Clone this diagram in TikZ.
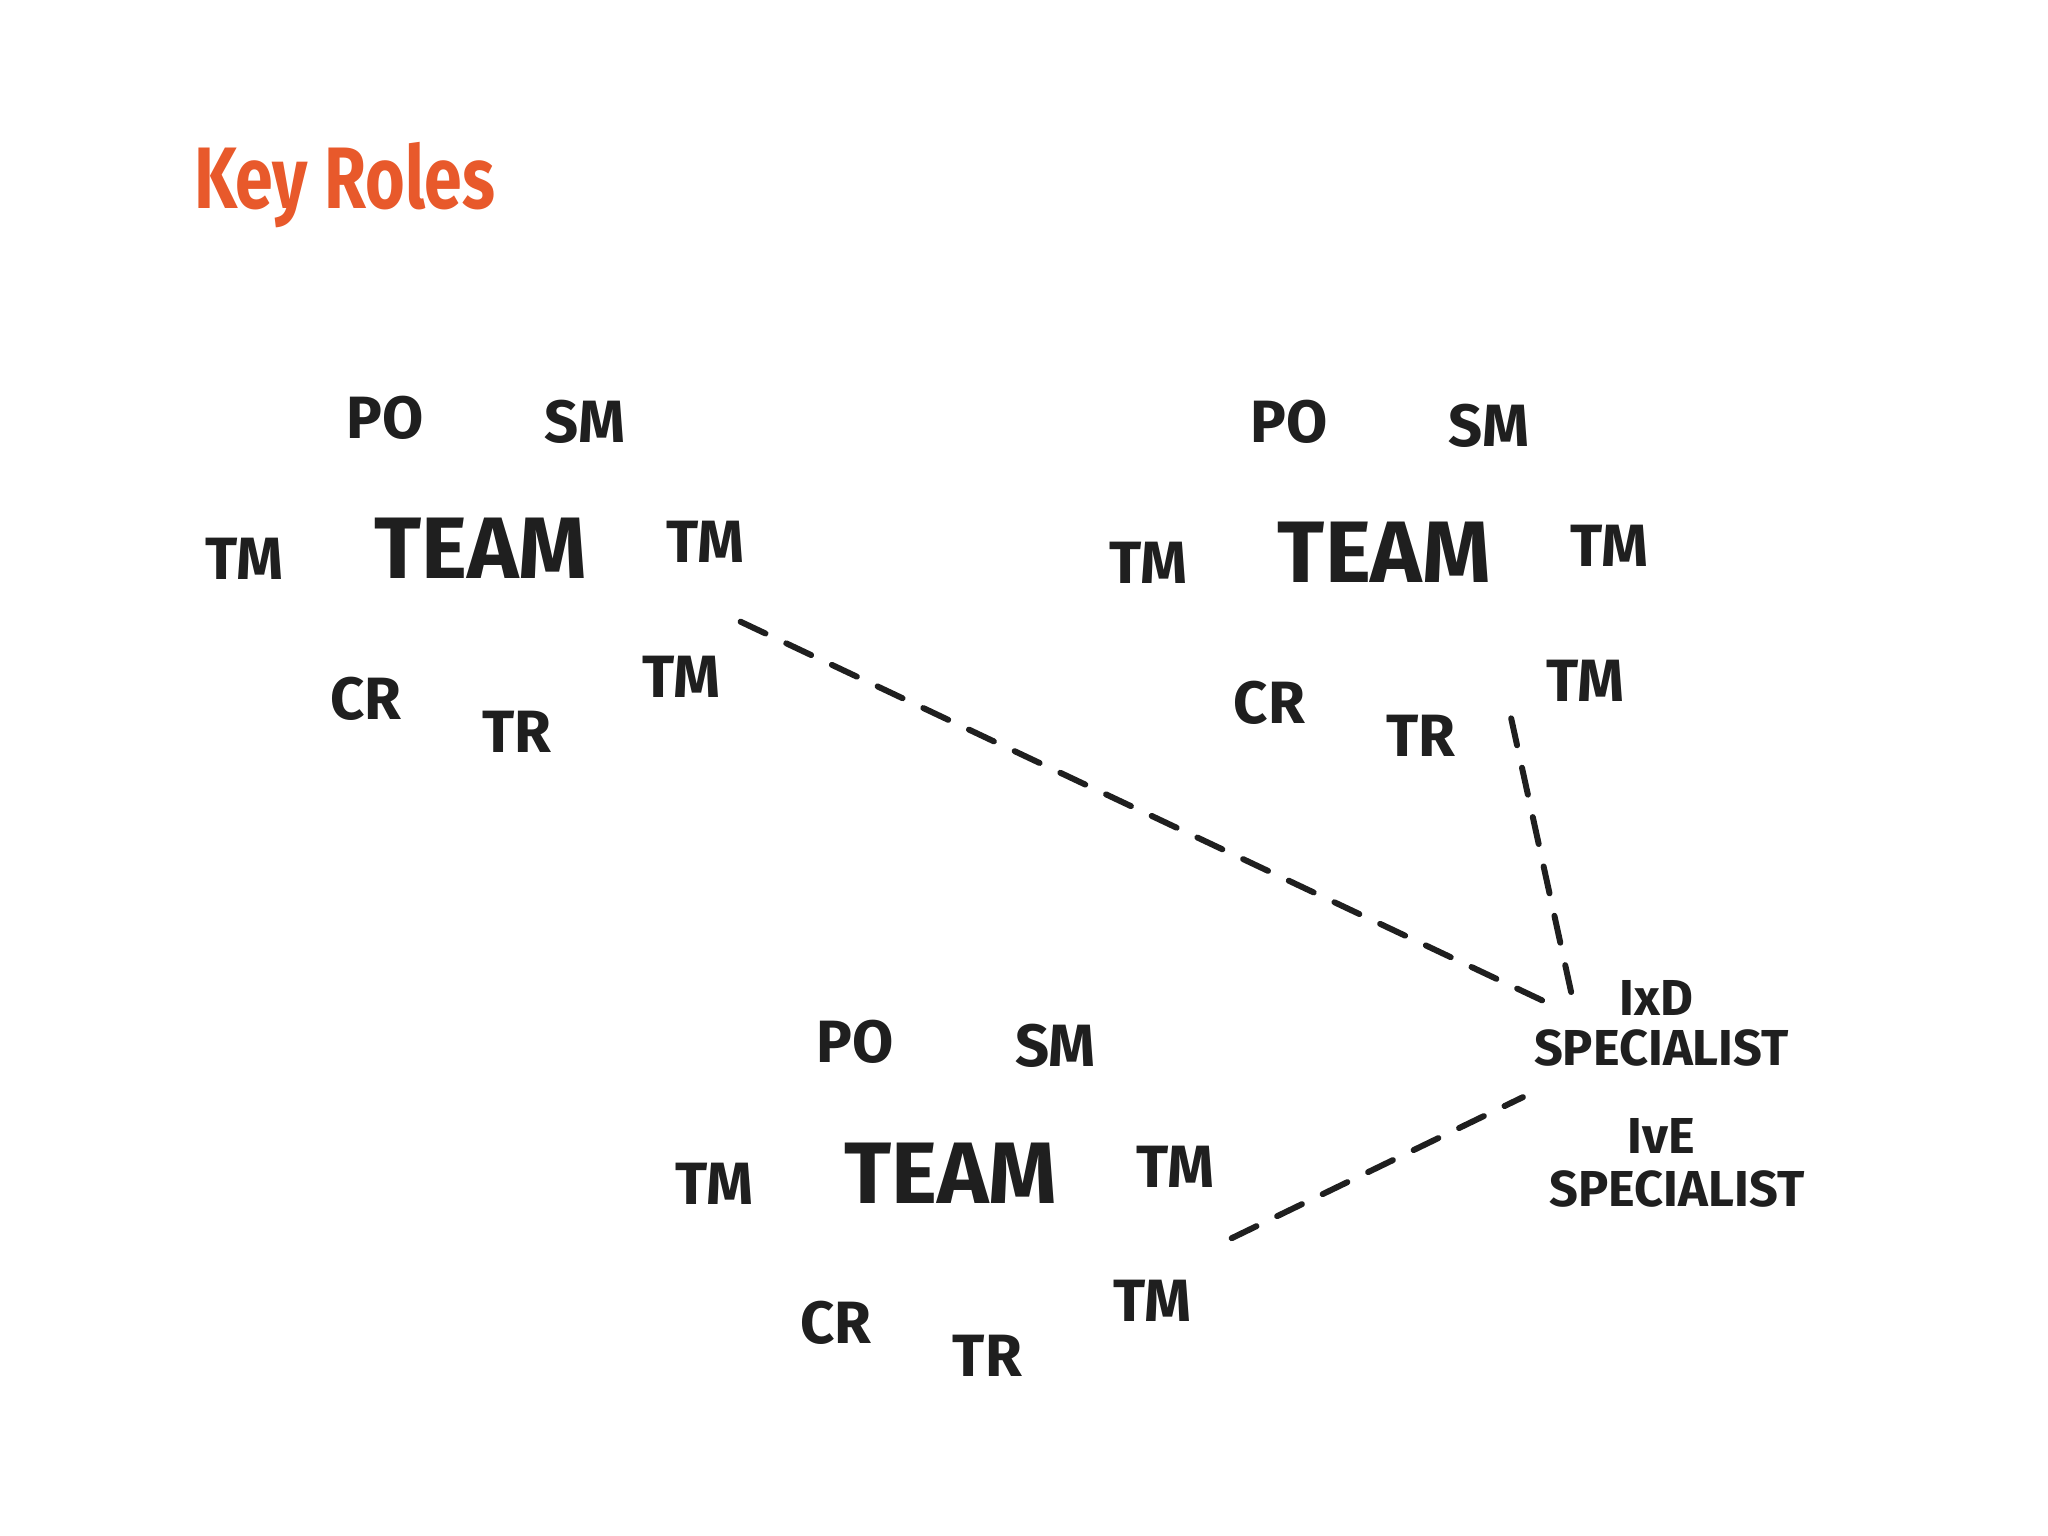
\documentclass[tikz,border=0pt]{standalone}
\usepackage{fontspec}
\setmainfont{Fira Sans}
\begin{document}
\begin{tikzpicture}[x=0.01cm,y=-0.01cm,
  lbl/.style={font=\fontsize{13}{13}\selectfont\bfseries, text=black!88},
  big/.style={font=\fontsize{19}{19}\selectfont\bfseries, text=black!88},
  spec/.style={font=\fontsize{11}{11}\selectfont\bfseries, text=black!88, inner sep=0pt},
  dashline/.style={draw=black!88, line width=1.3pt, dash pattern=on 6pt off 5pt, line cap=round}]
\useasboundingbox (0,0) rectangle (1568,1176);
\node[anchor=west, inner sep=0pt, xscale=0.78, font=\fontsize{19}{19}\selectfont\bfseries, text={rgb,255:red,232;green,89;blue,43}] (title) at (148,142) {Key Roles};
\foreach \g/\dx/\dy in {a/0/0, b/692/3, c/360/478}{
  \node[lbl] (\g po) at (295+\dx,320+\dy) {PO};
  \node[lbl] (\g sm) at (448+\dx,323+\dy) {SM};
  \node[lbl] (\g tm1) at (187+\dx,428+\dy) {TM};
  \node[big] (\g team) at (368+\dx,420+\dy) {TEAM};
  \node[lbl] (\g tm2) at (540+\dx,415+\dy) {TM};
  \node[lbl] (\g cr) at (280+\dx,535+\dy) {CR};
  \node[lbl] (\g tr) at (396+\dx,560+\dy) {TR};
  \node[lbl] (\g tm3) at (522+\dx,518+\dy) {TM};
}
\node[spec] (ixd) at (1268,764) {IxD};
\node[spec] (ixds) at (1272,802) {SPECIALIST};
\node[spec] (ive) at (1272,870) {IvE};
\node[spec] (ives) at (1284,910) {SPECIALIST};
\coordinate (a1) at (567,476); \coordinate (a2) at (1183,767);
\coordinate (b1) at (1157,550); \coordinate (b2) at (1203,760);
\coordinate (c1) at (943,948); \coordinate (c2) at (1166,840);
\draw[dashline] (a1) -- (a2);
\draw[dashline] (b1) -- (b2);
\draw[dashline] (c1) -- (c2);
\end{tikzpicture}
\end{document}
